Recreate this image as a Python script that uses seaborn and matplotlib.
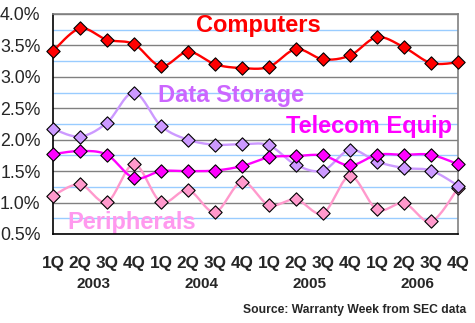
import numpy as np
import pandas as pd
import matplotlib
matplotlib.use("Agg")
import matplotlib.pyplot as plt
import seaborn as sns
from matplotlib.ticker import MultipleLocator, FuncFormatter

quarters = ["1Q", "2Q", "3Q", "4Q"] * 4
years = ["2003", "2004", "2005", "2006"]

computers = [3.41, 3.77, 3.59, 3.52, 3.17, 3.40, 3.20, 3.14,
             3.16, 3.44, 3.28, 3.34, 3.63, 3.47, 3.22, 3.23]
data_storage = [2.17, 2.05, 2.27, 2.75, 2.22, 2.00, 1.92, 1.93,
                1.91, 1.60, 1.51, 1.84, 1.65, 1.55, 1.51, 1.27]
telecom = [1.77, 1.82, 1.76, 1.39, 1.50, 1.50, 1.51, 1.58,
           1.72, 1.74, 1.75, 1.59, 1.76, 1.76, 1.76, 1.61]
peripherals = [1.11, 1.29, 1.01, 1.61, 1.01, 1.20, 0.85, 1.33,
               0.96, 1.05, 0.83, 1.42, 0.89, 0.99, 0.70, 1.23]

series = [
    ("Peripherals", peripherals, "#FF99CC", "#FF99CC", "#FF99EE", (2.93, 0.58)),
    ("Data Storage", data_storage, "#CC99FF", "#CC99FF", "#CC66FF", (6.59, 2.60)),
    ("Telecom Equip", telecom, "#FF00FF", "#FF00FF", "#FF00FF", (11.72, 2.11)),
    ("Computers", computers, "#FF0000", "#FF0000", "#FF0000", (7.59, 3.71)),
]


def smooth(x, y, n=20):
    x = np.asarray(x, float)
    y = np.asarray(y, float)
    xs, ys = [], []
    m = len(x)
    for i in range(m - 1):
        p0 = np.array([x[i], y[i]])
        p3 = np.array([x[i + 1], y[i + 1]])
        pm = np.array([x[i - 1], y[i - 1]]) if i > 0 else p0
        pn = np.array([x[i + 2], y[i + 2]]) if i + 2 < m else p3
        c1 = p0 + (p3 - pm) / 6.0
        c2 = p3 - (pn - p0) / 6.0
        t = np.linspace(0, 1, n, endpoint=(i == m - 2))[:, None]
        pts = ((1 - t) ** 3) * p0 + 3 * ((1 - t) ** 2) * t * c1 + 3 * (1 - t) * t ** 2 * c2 + t ** 3 * p3
        xs.extend(pts[:, 0])
        ys.extend(pts[:, 1])
    return np.array(xs), np.array(ys)


sns.set_style("white")
plt.rcParams["font.family"] = ["Liberation Sans", "DejaVu Sans"]

fig = plt.figure(figsize=(4.75, 3.23), dpi=100)
ax = fig.add_axes([53 / 475, 1 - 234 / 323, (458 - 53) / 475, (234 - 14) / 323])

x = np.arange(16)
for name, vals, lc, mc, tc, (tx, ty) in series:
    sx, sy = smooth(x, vals)
    df_line = pd.DataFrame({"x": sx, "y": sy})
    sns.lineplot(data=df_line, x="x", y="y", sort=False, estimator=None,
                 color=lc, lw=1.7, ax=ax, zorder=3)
    df_pts = pd.DataFrame({"x": x, "y": vals})
    sns.scatterplot(data=df_pts, x="x", y="y", marker="D", s=46, color=mc,
                    edgecolor="black", linewidth=0.8, ax=ax, zorder=4, clip_on=False)
    ax.text(tx, ty, name, color=tc, fontsize=17, fontweight="bold",
            ha="center", va="baseline", zorder=2)

ax.set_xlim(0, 15)
ax.set_ylim(0.5, 4.0)
ax.set_xlabel("")
ax.set_ylabel("")

ax.yaxis.set_major_locator(MultipleLocator(0.5))
ax.yaxis.set_minor_locator(MultipleLocator(0.25))
ax.yaxis.set_major_formatter(FuncFormatter(lambda v, p: f"{v:.1f}%"))
ax.grid(which="minor", axis="y", color="#99CCFF", lw=1.0, zorder=0)
ax.grid(which="major", axis="y", color="#808080", lw=1.0, zorder=0)
ax.set_axisbelow(True)

ax.set_xticks(x)
ax.set_xticklabels(quarters)
ax.tick_params(axis="x", which="major", length=6, width=1, color="black",
               direction="out", pad=10)
ax.tick_params(axis="y", which="major", length=6, width=1, color="black",
               direction="out", pad=3)
ax.tick_params(axis="y", which="minor", length=0)
for lab in ax.get_xticklabels():
    lab.set_fontweight("bold")
    lab.set_fontsize(12.3)
for lab in ax.get_yticklabels():
    lab.set_fontsize(12.75)

for sp in ["left", "bottom"]:
    ax.spines[sp].set_color("black")
    ax.spines[sp].set_linewidth(1.2)
for sp in ["top", "right"]:
    ax.spines[sp].set_color("#808080")
    ax.spines[sp].set_linewidth(1.2)
    ax.spines[sp].set_visible(True)

for i, yr in enumerate(years):
    ax.text(1.5 + 4 * i, -(284 - 234) / 220, yr, transform=ax.get_xaxis_transform(),
            ha="center", va="center", fontsize=11, fontweight="bold")

fig.text(466 / 475, 1 - 310 / 323, "Source: Warranty Week from SEC data",
         ha="right", va="center", fontsize=8.7, fontweight="bold")

fig.savefig("out.png", dpi=100)
